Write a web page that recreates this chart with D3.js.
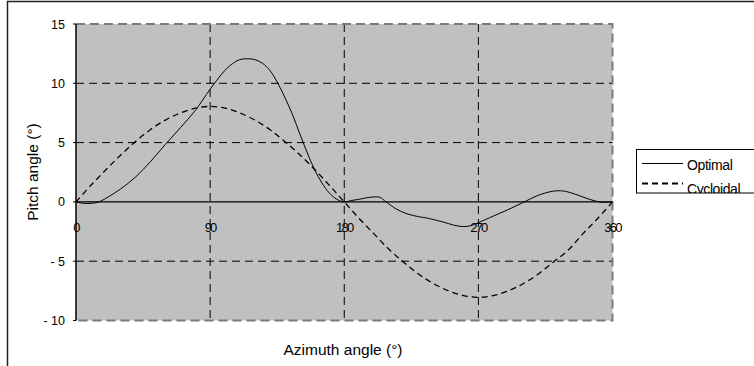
<!DOCTYPE html>
<html lang="en">
<head>
    <meta charset="UTF-8">
    <title>Pitch angle vs azimuth</title>
    <script src="https://cdnjs.cloudflare.com/ajax/libs/d3/7.8.5/d3.min.js"></script>
    <style>
        html, body { margin: 0; padding: 0; background: #fff; }
        svg { display: block; font-family: "Liberation Sans", Arial, sans-serif; }
    </style>
</head>
<body>
    <svg width="754" height="366"></svg>
    <script>
        // values
        const optimalAz  = [0, 5, 10, 15, 20, 30, 40, 50, 60, 70, 80, 90, 100, 105, 110, 115, 120, 125, 130, 135, 140, 145, 150, 155, 160, 165, 170, 175, 180,
                            185, 190, 195, 200, 204, 208, 215, 222, 230, 235, 245, 255, 260, 265, 270, 280, 290, 300, 310, 320, 327, 335, 345, 352, 356, 360];
        const optimalVal = [0, -0.12, -0.12, -0.02, 0.3, 1.1, 2.1, 3.4, 4.85, 6.25, 7.7, 9.5, 11.1, 11.65, 12.0, 12.07, 12.0, 11.7, 11.1, 10.1, 8.85, 7.45, 5.8, 4.2, 2.75, 1.6, 0.75, 0.22, 0,
                            0.12, 0.22, 0.35, 0.42, 0.38, 0.0, -0.6, -1.0, -1.25, -1.35, -1.65, -2.0, -2.08, -2.0, -1.75, -1.2, -0.65, -0.05, 0.55, 0.9, 0.92, 0.65, 0.2, -0.02, -0.04, 0];
        const cycloidalAz  = [0, 10, 20, 30, 40, 50, 60, 70, 80, 90, 100, 110, 120, 130, 140, 150, 160, 170, 180,
                              190, 200, 210, 220, 230, 240, 250, 260, 270, 280, 290, 300, 310, 320, 330, 340, 350, 360];
        const cycloidalVal = [0, 1.4, 2.7, 3.95, 5.1, 6.1, 6.9, 7.5, 7.9, 8.05, 7.9, 7.5, 6.9, 6.1, 5.1, 4.0, 2.75, 1.4, 0,
                              -1.4, -2.7, -4.0, -5.1, -6.1, -6.9, -7.5, -7.9, -8.05, -7.9, -7.5, -6.9, -6.1, -5.1, -4.1, -2.7, -1.4, 0];
        const xTicks = [0, 90, 180, 270, 360];
        const yTicks = [-10, -5, 0, 5, 10, 15];
        const seriesNames = ["Optimal", "Cycloidal"];

        const svg = d3.select("svg");
        const x = d3.scaleLinear().domain([0, 360]).range([76, 612.5]);
        const y = d3.scaleLinear().domain([-10, 15]).range([320.5, 24]);

        // outer chart border (cut off on the right and bottom)
        svg.append("path").attr("d", "M7.5,370 V1.5 H760")
            .attr("fill", "none").attr("stroke", "#222").attr("stroke-width", 1.5);

        // plot area
        svg.append("rect")
            .attr("x", x(0)).attr("y", y(15))
            .attr("width", x(360) - x(0)).attr("height", y(-10) - y(15))
            .attr("fill", "#c0c0c0");

        const g = svg.append("g");

        // grid lines
        g.selectAll(".vgrid").data([90, 180, 270]).enter().append("line")
            .attr("x1", d => x(d)).attr("x2", d => x(d))
            .attr("y1", y(15)).attr("y2", y(-10))
            .attr("stroke", "#000").attr("stroke-width", 1).attr("stroke-dasharray", "8,5");
        g.selectAll(".hgrid").data([-5, 5, 10]).enter().append("line")
            .attr("x1", x(0)).attr("x2", x(360))
            .attr("y1", d => y(d)).attr("y2", d => y(d))
            .attr("stroke", "#000").attr("stroke-width", 1).attr("stroke-dasharray", "8,5");

        // dashed gray border on top, right and bottom
        g.append("path")
            .attr("d", `M${x(0)},${y(15)} H${x(360)} V${y(-10)} H${x(0)}`)
            .attr("fill", "none").attr("stroke", "#7a7a7a").attr("stroke-width", 2)
            .attr("stroke-dasharray", "9,5");

        // axis lines
        g.append("line").attr("x1", x(0)).attr("x2", x(0)).attr("y1", y(15)).attr("y2", y(-10))
            .attr("stroke", "#000").attr("stroke-width", 1.5);
        g.append("line").attr("x1", x(0)).attr("x2", x(360)).attr("y1", y(0)).attr("y2", y(0))
            .attr("stroke", "#000").attr("stroke-width", 1.3);
        g.selectAll(".ytick").data(yTicks).enter().append("line")
            .attr("x1", x(0) - 3).attr("x2", x(0))
            .attr("y1", d => y(d)).attr("y2", d => y(d))
            .attr("stroke", "#000").attr("stroke-width", 1);

        // tick labels
        svg.selectAll(".ylab").data(yTicks).enter().append("text")
            .attr("x", 65).attr("y", d => y(d)).attr("dy", "0.36em")
            .attr("text-anchor", "end").attr("font-size", 12.5)
            .text(d => d < 0 ? "- " + Math.abs(d) : d);
        svg.selectAll(".xlab").data(xTicks).enter().append("text")
            .attr("x", d => x(d)).attr("y", 231.5)
            .attr("text-anchor", "middle").attr("font-size", 13).attr("letter-spacing", -1.8)
            .text(d => d);

        // axis titles
        svg.append("text").attr("transform", "translate(38,172) rotate(-90)")
            .attr("text-anchor", "middle").attr("font-size", 15.5).text("Pitch angle (°)");
        svg.append("text").attr("x", 343).attr("y", 355)
            .attr("text-anchor", "middle").attr("font-size", 15.5).text("Azimuth angle (°)");

        // series
        const line = d3.line().x(d => x(d[0])).y(d => y(d[1])).curve(d3.curveCatmullRom);
        g.append("path").datum(d3.zip(cycloidalAz, cycloidalVal)).attr("d", line)
            .attr("fill", "none").attr("stroke", "#000").attr("stroke-width", 1.3).attr("stroke-dasharray", "6,4");
        g.append("path").datum(d3.zip(optimalAz, optimalVal)).attr("d", line)
            .attr("fill", "none").attr("stroke", "#000").attr("stroke-width", 1);

        // legend
        svg.append("clipPath").attr("id", "legclip").append("rect")
            .attr("x", 636).attr("y", 149.5).attr("width", 130).attr("height", 43.5);
        const leg = svg.append("g");
        leg.append("rect").attr("x", 636.5).attr("y", 149.5).attr("width", 130).attr("height", 43.5)
            .attr("fill", "#fff").attr("stroke", "#000").attr("stroke-width", 1);
        const legItems = leg.append("g").attr("clip-path", "url(#legclip)");
        seriesNames.forEach((name, i) => {
            const ly = 163.5 + i * 20;
            legItems.append("line").attr("x1", 642).attr("x2", 683).attr("y1", ly).attr("y2", ly)
                .attr("stroke", "#000").attr("stroke-width", i ? 1.8 : 1)
                .attr("stroke-dasharray", i ? "6,4" : null);
            legItems.append("text").attr("x", 687).attr("y", ly + 6 + i * 4.5)
                .attr("font-size", 14).attr("letter-spacing", -0.4).text(name);
        });
    </script>
</body>
</html>
